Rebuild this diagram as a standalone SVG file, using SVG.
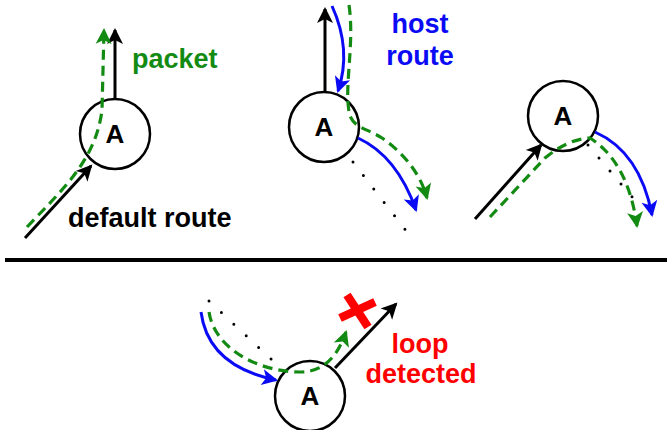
<svg xmlns="http://www.w3.org/2000/svg" width="667" height="430" viewBox="0 0 667 430">
<style>
.node circle{fill:none;stroke:#000;stroke-width:2.5}
.node text{font-family:"Liberation Sans",Arial,sans-serif;font-weight:bold;font-size:26px;text-anchor:middle;fill:#000}
.lbl{font-family:"Liberation Sans",Arial,sans-serif;font-weight:bold;font-size:27px}
.blk{fill:none;stroke:#000;stroke-width:3}
.blu{fill:none;stroke:#0a0af5;stroke-width:3}
.grn{fill:none;stroke:#138b13;stroke-width:3.2;stroke-dasharray:10 6}
.dot{fill:none;stroke:#000;stroke-width:3;stroke-linecap:round;stroke-dasharray:0 17}
</style>
<defs>
<marker id="ak" markerUnits="userSpaceOnUse" orient="auto" markerWidth="30" markerHeight="30" refX="0" refY="0" viewBox="-20 -15 30 30" overflow="visible"><path d="M2,0 L-14,-8 L-10,0 L-14,8 Z" fill="#000"/></marker>
<marker id="ab" markerUnits="userSpaceOnUse" orient="auto" markerWidth="30" markerHeight="30" refX="0" refY="0" viewBox="-20 -15 30 30" overflow="visible"><path d="M2,0 L-14,-8 L-10,0 L-14,8 Z" fill="#0a0af5"/></marker>
<marker id="ag" markerUnits="userSpaceOnUse" orient="auto" markerWidth="30" markerHeight="30" refX="0" refY="0" viewBox="-20 -15 30 30" overflow="visible"><path d="M2,0 L-14,-8 L-10,0 L-14,8 Z" fill="#138b13"/></marker>
</defs>

<g id="nodeA1" class="node"><circle cx="115" cy="134" r="35"/><text x="115" y="143">A</text></g>
<g id="nodeA2" class="node"><circle cx="324" cy="127" r="35"/><text x="324" y="136">A</text></g>
<g id="nodeA3" class="node"><circle cx="563" cy="116" r="35"/><text x="563" y="125">A</text></g>
<g id="nodeA4" class="node"><circle cx="310" cy="396" r="35"/><text x="310" y="405">A</text></g>

<g id="connectors">
<path class="blk" d="M115,99 L115,30" marker-end="url(#ak)"/>
<path class="blk" d="M25,238 L91,166" marker-end="url(#ak)"/>
<path class="grn" d="M27,227 C62,190 96,160 102,110 L104,30" marker-end="url(#ag)"/>
<path class="blk" d="M325,92 L325,9" marker-end="url(#ak)"/>
<path class="blu" d="M332,6 Q352,50 338,91" marker-end="url(#ab)"/>
<path class="grn" d="M349,5 C355,45 343,90 350,116 C355,128 366,128 382,138 C402,152 420,172 427,198" marker-end="url(#ag)"/>
<path class="blu" d="M358,138 Q397,156 416,210" marker-end="url(#ab)"/>
<path class="dot" d="M353,162 L407,232"/>
<path class="blk" d="M475,219 L541,145" marker-end="url(#ak)"/>
<path class="grn" d="M490,217 L545,158 Q568,139 590,138 Q628,162 637,226" marker-end="url(#ag)"/>
<path class="blu" d="M595,132 Q640,152 652,215" marker-end="url(#ab)"/>
<path class="dot" d="M588,145 L633,198"/>
<path d="M5,260 L667,260" stroke="#000" stroke-width="4"/>
<path class="blk" d="M335,368 L396,304" marker-end="url(#ak)"/>
<path class="blu" d="M201,312 Q208,366 276,380" marker-end="url(#ab)"/>
<path class="grn" d="M209,312 C215,350 260,372 300,372 C325,372 338,355 346,332" marker-end="url(#ag)"/>
<path class="dot" d="M209,301 L272,360"/>
<path d="M347,295 L368,327 M340,318 L375,302" stroke="#ff0000" stroke-width="8.5"/>
</g>

<g id="labels">
<text class="lbl" x="132" y="68" fill="#138b13">packet</text>
<text class="lbl" x="68" y="227" fill="#000">default route</text>
<text class="lbl" x="420" y="33" fill="#0a0af5" text-anchor="middle">host</text>
<text class="lbl" x="420" y="65" fill="#0a0af5" text-anchor="middle">route</text>
<text class="lbl" x="420" y="353" fill="#ff0000" text-anchor="middle">loop</text>
<text class="lbl" x="421" y="383" fill="#ff0000" text-anchor="middle">detected</text>
</g>
</svg>
